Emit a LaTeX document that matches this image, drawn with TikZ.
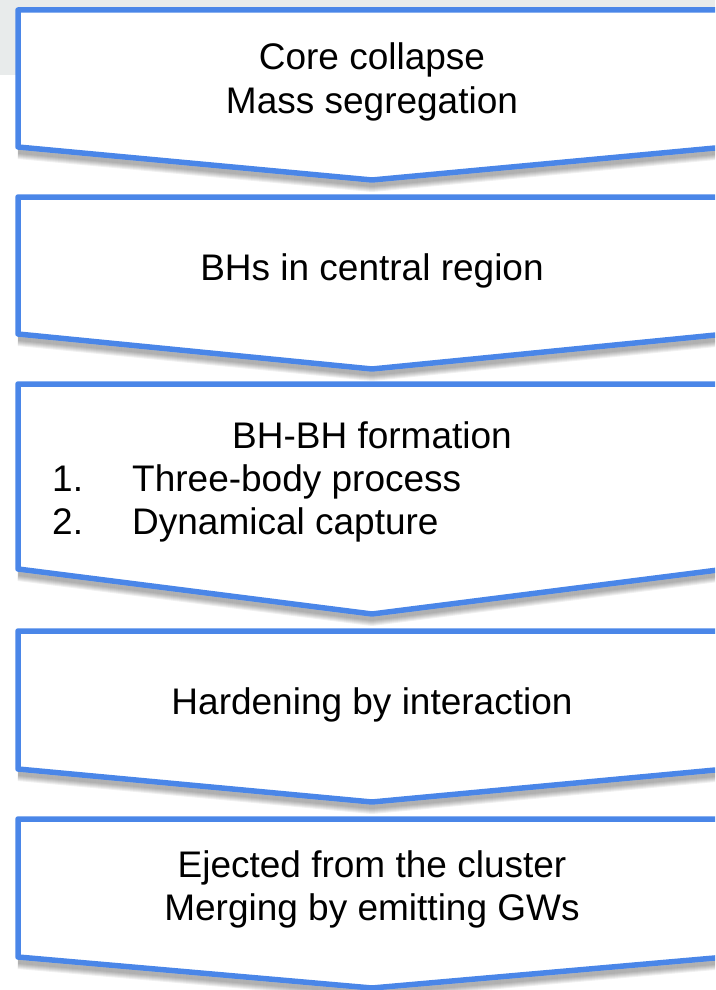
\documentclass[tikz,border=0pt]{standalone}
\usepackage{fontspec}
\setmainfont{Liberation Sans}
\definecolor{boxblue}{RGB}{74,134,232}
\definecolor{bandgray}{RGB}{232,235,235}
\begin{document}
\begin{tikzpicture}[x=1pt, y=-1pt,
    chev/.style={draw=boxblue, fill=white, line width=5.5pt, line join=round},
    shade/.style={line width=6pt, line join=round, black, opacity=0.06},
    txt/.style={inner sep=0pt, anchor=base, font=\fontsize{37}{43}\selectfont},
    item/.style={txt, anchor=base west}]

  \useasboundingbox (0,0) rectangle (715,990);
  \clip (0,0) rectangle (715,990);

% ---------------- grey band behind the top of the first box
  \fill[bandgray] (0,0) rectangle (715,75);

% ---------------- the five chevron boxes, top to bottom (top / lower corner / tip)
  \foreach \ytop/\ybot/\ytip in {10/147/180, 197/334/369, 384/569/614,
                                 631/769/802, 819/957/988} {
    \foreach \d in {1,...,9}
      \draw[shade] (18,\ybot+\d) -- (372,\ytip+\d) -- (726,\ybot+\d);
    \draw[chev] (18,\ytop) -- (726,\ytop) -- (726,\ybot) -- (372,\ytip)
      -- (18,\ybot) -- cycle;
  }

% ---------------- box texts
  \node[txt] (core)   at (372,70)  {Core collapse};
  \node[txt] (mass)   at (372,113) {Mass segregation};

  \node[txt] (bhs)    at (372,280) {BHs in central region};

  \node[txt] (form)   at (372,448) {BH-BH formation};
  \node[item] (numa)  at (52,491)  {1.};
  \node[item] (three) at (132,491) {Three-body process};
  \node[item] (numb)  at (52,534)  {2.};
  \node[item] (dyn)   at (132,534) {Dynamical capture};

  \node[txt] (hard)   at (372,714) {Hardening by interaction};

  \node[txt] (eject)  at (372,877) {Ejected from the cluster};
  \node[txt] (merge)  at (372,920) {Merging by emitting GWs};
\end{tikzpicture}
\end{document}
